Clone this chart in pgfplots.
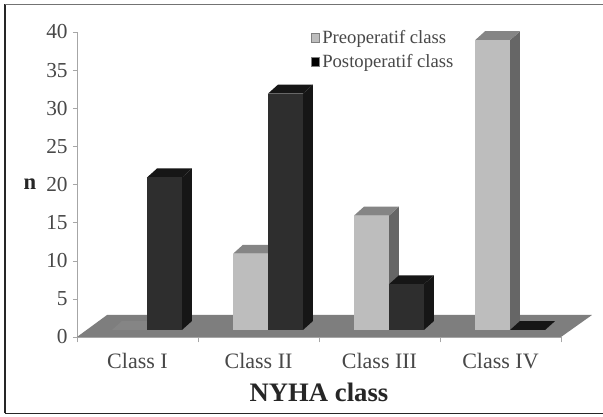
\documentclass[border=0pt]{standalone}
\usepackage{fontspec}
\setmainfont{Liberation Serif}
\usepackage{pgfplots}
\pgfplotsset{compat=1.18}
\definecolor{lightbar}{HTML}{BDBDBD}
\definecolor{lighttop}{HTML}{858585}
\definecolor{lightside}{HTML}{666666}
\definecolor{darkbar}{HTML}{2E2E2E}
\definecolor{darktop}{HTML}{161616}
\definecolor{floorc}{HTML}{7E7E7E}
\definecolor{txt}{HTML}{484848}
% #1 category centre, #2 -1 light / 1 dark, #3 value, #4 front, #5 top, #6 side
\newcommand{\solidbar}[6]{%
  \pgfmathsetmacro\xa{#1+(#2-1)/2*0.289}%
  \pgfmathsetmacro\xb{\xa+0.289}%
  \pgfmathsetmacro\xc{\xa+0.0826}%
  \pgfmathsetmacro\xd{\xb+0.0826}%
  \pgfmathsetmacro\yt{#3+1.18}%
  \edef\tmp{\noexpand\addplot[forget plot,fill=#6,draw=none,xshift=7.125pt,yshift=5.25pt]
    coordinates {(\xb,0)(\xd,1.18)(\xd,\yt)(\xb,#3)};
    \noexpand\addplot[forget plot,fill=#5,draw=none,xshift=7.125pt,yshift=5.25pt]
    coordinates {(\xa,#3)(\xb,#3)(\xd,\yt)(\xc,\yt)};}\tmp
  \ifdim #3pt>0pt
  \addplot[forget plot,ybar,bar width=26.25pt,bar shift=#2*13.125pt,fill=#4,draw=none,xshift=7.125pt,yshift=5.25pt]
    coordinates {(#1,#3)};
  \fi
}
\begin{document}
\begin{tikzpicture}
\path[use as bounding box] (0,0) rectangle (452.25pt,312.75pt);
\fill[white] (0,0) rectangle (452.25pt,312.75pt);
\draw[black!85,line width=0.9pt] (3.75pt,2.9pt) -- (452.25pt,2.9pt);
\draw[black!85,line width=0.9pt] (3.75pt,2.9pt) -- (3.75pt,309.5pt);
\draw[black!55,line width=1pt] (3.75pt,309.5pt) -- (452.25pt,309.5pt);
\begin{axis}[
  at={(57.75pt,60pt)},anchor=origin,
  scale only axis,width=363pt,height=228.75pt,
  xmin=0,xmax=4,ymin=0,ymax=40,clip=false,
  axis x line=bottom,axis y line=left,
  axis line style={-,color=black!35},
  xtick={0.5,1.5,2.5,3.5},
  xticklabels={Class I,Class II,Class III,Class IV},
  minor xtick={0,1,2,3,4},
  ytick={0,5,...,40},
  tick align=outside,
  major tick length=3pt,minor tick length=4pt,
  xtick style={draw=none},
  minor x tick style={draw=black!35},
  ytick style={draw=black!35},
  x tick label style={yshift=-6pt,font=\fontsize{16.5}{18}\selectfont,text=txt},
  y tick label style={xshift=-0.5pt,font=\fontsize{16}{18}\selectfont,text=txt},
  /pgf/number format/assume math mode=true,
  xlabel={NYHA class},
  xlabel style={at={(axis description cs:0.5,-0.181)},anchor=center,font=\fontsize{20}{22}\selectfont\bfseries,text=black!85},
  ylabel={n},
  ylabel style={at={(axis description cs:-0.097,0.5)},anchor=center,rotate=-90,font=\fontsize{17}{19}\selectfont\bfseries,text=black!85},
  legend cell align=left,
  legend style={at={(axis description cs:0.482,1.015)},anchor=north west,draw=none,fill=none,
    font=\fontsize{14}{15}\selectfont,text=txt,inner sep=0pt,row sep=2.6pt,
    /tikz/every even column/.append style={column sep=0pt}},
  legend image code/.code={\fill[#1,draw=black!50,line width=0.3pt] (0pt,-3pt) rectangle (6.5pt,3.5pt);},
]
% floor
\addplot[forget plot,fill=floorc,draw=none] coordinates {(0,0)(4,0)(4.256,2.885)(0.248,2.885)};
% class I
\solidbar{0.5}{-1}{0}{lightbar}{lighttop}{lightside}
\solidbar{0.5}{1}{20}{darkbar}{darktop}{darktop}
% class II
\solidbar{1.5}{-1}{10}{lightbar}{lighttop}{lightside}
\solidbar{1.5}{1}{31}{darkbar}{darktop}{darktop}
% class III
\solidbar{2.5}{-1}{15}{lightbar}{lighttop}{lightside}
\solidbar{2.5}{1}{6}{darkbar}{darktop}{darktop}
% class IV
\solidbar{3.5}{-1}{38}{lightbar}{lighttop}{lightside}
\solidbar{3.5}{1}{0}{darkbar}{darktop}{darktop}
\addlegendimage{lightbar}
\addlegendentry{Preoperatif class}
\addlegendimage{black}
\addlegendentry{Postoperatif class}
\end{axis}
\end{tikzpicture}
\end{document}
